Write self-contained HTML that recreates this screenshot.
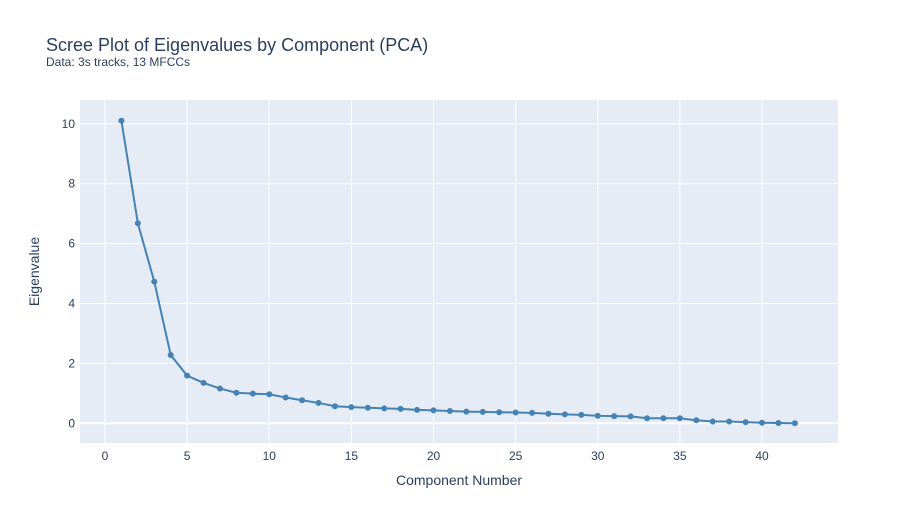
<!DOCTYPE html>
<html><head><meta charset="utf-8"><style>
body{margin:0;background:#fff;font-family:"Liberation Sans",Arial,sans-serif}
</style></head><body>
<svg id="chart" width="918" height="525" xmlns="http://www.w3.org/2000/svg">
<rect width="918" height="525" fill="#fff"/>
<text x="46" y="51" font-size="18" fill="#2a3f5f">Scree Plot of Eigenvalues by Component (PCA)</text>
<text x="46" y="66" font-size="12" fill="#2a3f5f">Data: 3s tracks, 13 MFCCs</text>
<rect x="80" y="100" width="758" height="343" fill="#e5ecf6"/>
<g id="grid"></g>
<g id="axes"></g>
<g id="series"></g>
<text x="459" y="485" font-size="14" fill="#2a3f5f" text-anchor="middle">Component Number</text>
<text x="39" y="271.5" font-size="14" fill="#2a3f5f" text-anchor="middle" transform="rotate(-90 39 271.5)">Eigenvalue</text>
</svg>
<script>
const components=[1,2,3,4,5,6,7,8,9,10,11,12,13,14,15,16,17,18,19,20,21,22,23,24,25,26,27,28,29,30,31,32,33,34,35,36,37,38,39,40,41,42];
const eigenvalues=[10.10,6.68,4.73,2.28,1.59,1.35,1.16,1.02,0.99,0.97,0.86,0.77,0.68,0.57,0.54,0.52,0.50,0.48,0.45,0.43,0.41,0.39,0.38,0.37,0.36,0.35,0.32,0.30,0.28,0.25,0.24,0.23,0.17,0.17,0.17,0.10,0.06,0.06,0.04,0.02,0.01,0.0];
const xTicks=[0,5,10,15,20,25,30,35,40];
const yTicks=[0,2,4,6,8,10];
const NS="http://www.w3.org/2000/svg";
const X=v=>105+v*16.425;
const Y=v=>423.3-v*29.95;
function mk(tag,attrs,parent){const e=document.createElementNS(NS,tag);for(const k in attrs)e.setAttribute(k,attrs[k]);parent.appendChild(e);return e;}
const grid=document.getElementById('grid'),axes=document.getElementById('axes'),series=document.getElementById('series');
xTicks.forEach(t=>{
  const l=mk('line',{x1:X(t),x2:X(t),y1:100,y2:443,stroke:'#fff','stroke-width':1},grid);
  
  
  const tx=mk('text',{x:X(t),y:460,'font-size':12,fill:'#2a3f5f','text-anchor':'middle'},axes);
  tx.textContent=t;
  
  
});
yTicks.forEach(t=>{
  const l=mk('line',{x1:80,x2:838,y1:Y(t),y2:Y(t),stroke:'#fff','stroke-width':t===0?2:1},grid);
  
  
  const tx=mk('text',{x:75,y:Y(t)+4,'font-size':12,fill:'#2a3f5f','text-anchor':'end'},axes);
  tx.textContent=t;
  
  
});
const pts=components.map((c,i)=>X(c)+','+Y(eigenvalues[i])).join(' ');
const line=mk('polyline',{points:pts,fill:'none',stroke:'#4682b4','stroke-width':2},series);


components.forEach((c,i)=>{
  const p=mk('circle',{cx:X(c),cy:Y(eigenvalues[i]),r:3,fill:'#4682b4'},series);
  
  
});
</script>
</body></html>
